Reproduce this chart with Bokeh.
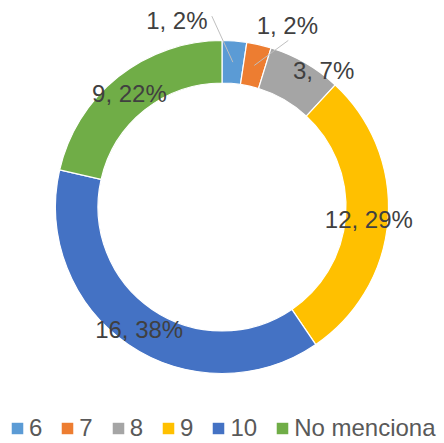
import math
from bokeh.plotting import figure
from bokeh.models import ColumnDataSource, Range1d, Legend, LegendItem
from bokeh.core.properties import value
from bokeh.embed import file_html
from bokeh.resources import INLINE

categories = ["6", "7", "8", "9", "10", "No menciona"]
counts = [1, 1, 3, 12, 16, 9]
percents = [2, 2, 7, 29, 38, 22]
colors = ["#5B9BD5", "#ED7D31", "#A5A5A5", "#FFC000", "#4472C4", "#70AD47"]

# label nudges (screen px) relative to the ring middle of each slice
label_dx = [-56, 33, 29, 2, -1, -2]
label_dy = [42, 40, 11, -2, -2, 0]
leader = [True, True, False, False, False, False]
leader_dx = [35, 1, 0, 0, 0, 0]
leader_dy = [4, -15, 0, 0, 0, 0]

R_OUT = 166.5
R_IN = 124.0
R_LAB = (R_OUT + R_IN) / 2

total = sum(counts)
starts, ends, mids = [], [], []
cum = 0
for c in counts:
    a0 = math.pi / 2 - 2 * math.pi * cum / total
    a1 = math.pi / 2 - 2 * math.pi * (cum + c) / total
    starts.append(a1)
    ends.append(a0)
    mids.append(math.pi / 2 - 2 * math.pi * (cum + c / 2) / total)
    cum += c

ax = [R_LAB * math.cos(m) for m in mids]
ay = [R_LAB * math.sin(m) for m in mids]
lx = [ax[i] + label_dx[i] for i in range(len(counts))]
ly = [ay[i] + label_dy[i] for i in range(len(counts))]
texts = [f"{counts[i]}, {percents[i]}%" for i in range(len(counts))]

W, H = 444, 443
CX, CY = 221.5, 206.5
p = figure(width=W, height=H, output_backend="svg", toolbar_location=None,
           x_range=Range1d(-CX, W - CX), y_range=Range1d(CY - H, CY),
           min_border=0, outline_line_color=None)
p.axis.visible = False
p.grid.visible = False
p.background_fill_color = "white"

src = ColumnDataSource(dict(cat=categories, start=starts, end=ends, color=colors))
wedges = p.annular_wedge(x=0, y=0, inner_radius=R_IN, outer_radius=R_OUT,
                         start_angle="start", end_angle="end", fill_color="color",
                         line_color="white", line_width=1.2, source=src)

lead_src = ColumnDataSource(dict(
    x0=[lx[i] + leader_dx[i] for i in range(len(counts)) if leader[i]],
    y0=[ly[i] + leader_dy[i] for i in range(len(counts)) if leader[i]],
    x1=[ax[i] for i in range(len(counts)) if leader[i]],
    y1=[ay[i] for i in range(len(counts)) if leader[i]],
))
p.segment(x0="x0", y0="y0", x1="x1", y1="y1", line_color="#BFBFBF", line_width=1, source=lead_src)

lab_src = ColumnDataSource(dict(x=lx, y=ly, t=texts))
p.text(x="x", y="y", text="t", source=lab_src, text_align="center", text_baseline="middle",
       text_font=value("Liberation Sans"), text_font_size="24px", text_color="#404040")

items = [LegendItem(label=categories[i], renderers=[wedges], index=i) for i in range(len(categories))]
legend = Legend(items=items, orientation="horizontal", location=(9, 1),
                glyph_width=16, glyph_height=16, label_standoff=4, spacing=17,
                padding=0, margin=0, border_line_alpha=0, background_fill_alpha=0,
                label_text_font="Liberation Sans", label_text_font_size="24px",
                label_text_color="#595959", label_height=20, label_width=0)
p.add_layout(legend, "center")

open("out.html", "w").write(file_html(p, INLINE))
